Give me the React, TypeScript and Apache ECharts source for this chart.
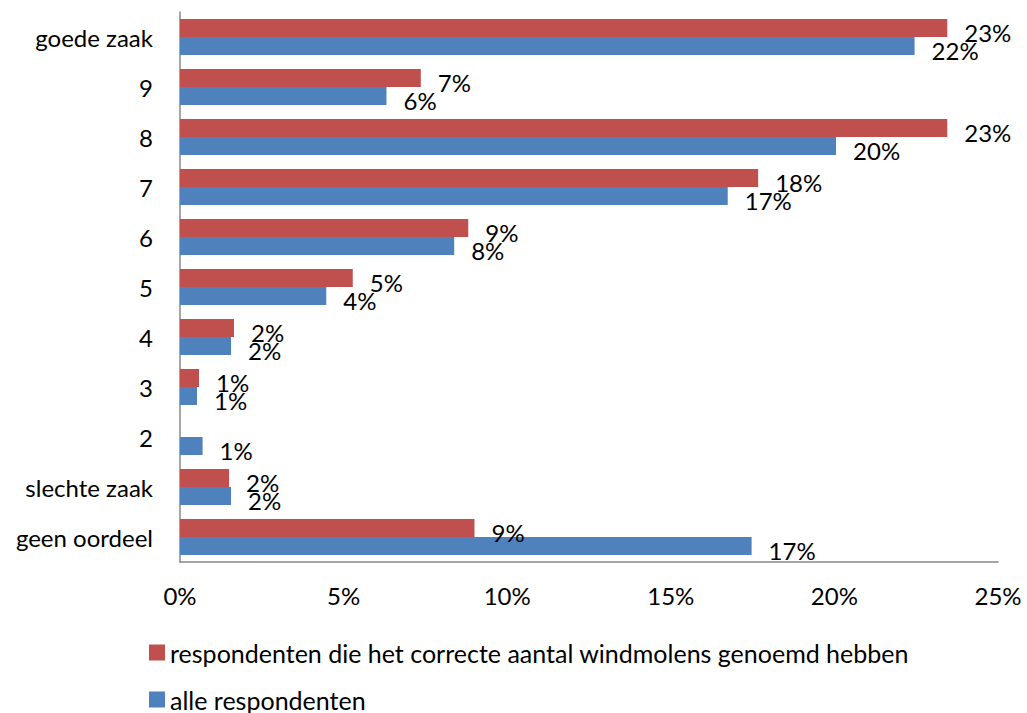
import React, { useEffect, useRef } from "react";
import * as echarts from "echarts";

const categories = [
  "goede zaak",
  "9",
  "8",
  "7",
  "6",
  "5",
  "4",
  "3",
  "2",
  "slechte zaak",
  "geen oordeel",
];

const correctRespondents = [23.45, 7.36, 23.45, 17.67, 8.81, 5.28, 1.65, 0.58, 0, 1.5, 9.0];
const allRespondents = [22.45, 6.31, 20.05, 16.74, 8.38, 4.47, 1.56, 0.52, 0.69, 1.56, 17.47];

const seriesNames = [
  "respondenten die het correcte aantal windmolens genoemd hebben",
  "alle respondenten",
];

const xTicks = { min: 0, max: 25, interval: 5 };

const FONT = "Lato";

export default function App() {
  const ref = useRef<HTMLDivElement>(null);

  useEffect(() => {
    if (!ref.current) return;
    const chart = echarts.init(ref.current, null, { renderer: "svg" });
    const labelCfg = {
      show: true,
      position: "right",
      distance: 17,
      offset: [0, 4],
      color: "#000",
      fontFamily: FONT,
      fontSize: 24,
      formatter: (p: any) => (p.value ? Math.round(p.value) + "%" : ""),
    };
    const legendBase = {
      orient: "horizontal",
      left: 149,
      padding: 0,
      itemWidth: 16,
      itemHeight: 16,
      icon: "rect",
      textStyle: { fontFamily: FONT, fontSize: 25, color: "#000", padding: [0, 0, 0, 0] },
    };
    chart.setOption({
      animation: false,
      textStyle: { fontFamily: FONT },
      grid: { left: 180, top: 12, width: 818, height: 550, containLabel: false },
      legend: [
        { ...legendBase, top: 640, data: [seriesNames[0]] },
        { ...legendBase, top: 687, data: [seriesNames[1]] },
      ],
      xAxis: {
        type: "value",
        min: xTicks.min,
        max: xTicks.max,
        interval: xTicks.interval,
        axisLine: { show: true, lineStyle: { color: "#888", width: 1.5 } },
        axisTick: { show: false },
        splitLine: { show: false },
        axisLabel: {
          formatter: "{value}%",
          color: "#000",
          fontFamily: FONT,
          fontSize: 24,
          margin: 21,
        },
      },
      yAxis: {
        type: "category",
        inverse: true,
        data: categories,
        axisLine: { show: true, lineStyle: { color: "#888", width: 1.5 } },
        axisTick: { show: false },
        axisLabel: {
          color: "#000",
          fontFamily: FONT,
          fontSize: 24,
          margin: 27,
        },
      },
      series: [
        {
          name: seriesNames[0],
          type: "bar",
          data: correctRespondents,
          barGap: "0%",
          barCategoryGap: "28%",
          itemStyle: { color: "#C0504D" },
          label: labelCfg,
        },
        {
          name: seriesNames[1],
          type: "bar",
          data: allRespondents,
          barGap: "0%",
          barCategoryGap: "28%",
          itemStyle: { color: "#4F81BD" },
          label: labelCfg,
        },
      ],
    });
    return () => chart.dispose();
  }, []);

  return (
    <div
      ref={ref}
      style={{ position: "absolute", left: 0, top: 0, width: 1027, height: 713 }}
    />
  );
}
